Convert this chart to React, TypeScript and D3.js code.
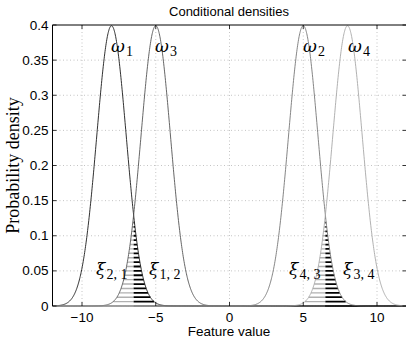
import React from "react";
import * as d3 from "d3";

const classNames = ["\u03c9", "\u03c9", "\u03c9", "\u03c9"];
const classIdx = ["1", "3", "2", "4"];
const classMeans = [-8, -5, 5, 8];
const classSigma = 1;
const curveColors = ["#1a1a1a", "#555555", "#777777", "#a8a8a8"];
const xTicks = [-10, -5, 0, 5, 10];
const yTicks = [0, 0.05, 0.1, 0.15, 0.2, 0.25, 0.3, 0.35, 0.4];
const yTickLabels = ["0", "0.05", "0.1", "0.15", "0.2", "0.25", "0.3", "0.35", "0.4"];
// pairs: [left class index, right class index]
const pairs = [[0, 1], [2, 3]];
const errLabels = [
  ["2,1", "1,2"],
  ["4,3", "3,4"],
];
const hatchStep = 0.00625;

const W = 406, H = 342;
const m = { left: 52.5, right: 406.5, top: 25, bottom: 306 };

function pdf(x: number, mu: number, s: number) {
  return Math.exp(-0.5 * ((x - mu) / s) ** 2) / (s * Math.sqrt(2 * Math.PI));
}

export default function App() {
  const x = d3.scaleLinear().domain([-12, 12]).range([m.left, m.right]);
  const y = d3.scaleLinear().domain([0, 0.4]).range([m.bottom, m.top]);
  const xs = d3.range(-12, 12.001, 0.02);
  const line = d3.line<number>();

  const sans = "'Liberation Sans', Arial, sans-serif";
  const serif = "'Liberation Serif', 'DejaVu Serif', serif";
  const math = "'DejaVu Serif', 'Liberation Serif', serif";

  const hatches: React.ReactNode[] = [];
  pairs.forEach(([a, b], pi) => {
    const ma = classMeans[a], mb = classMeans[b];
    const bnd = (ma + mb) / 2;
    const top = pdf(bnd, ma, classSigma);
    const levels = d3.range(0, top, hatchStep);
    levels.forEach((lv, i) => {
      const d = lv <= 0 ? 100 : Math.sqrt(-2 * Math.log(lv * classSigma * Math.sqrt(2 * Math.PI))) * classSigma;
      const xl = Math.max(mb - d, -12);
      const xr = Math.min(ma + d, 12);
      hatches.push(
        <line key={`g${pi}-${i}`} x1={x(xl)} x2={x(bnd)} y1={y(lv)} y2={y(lv)} stroke="#b0b0b0" strokeWidth={1.4} />
      );
      hatches.push(
        <line key={`k${pi}-${i}`} x1={x(bnd)} x2={x(xr)} y1={y(lv)} y2={y(lv)} stroke="#000" strokeWidth={1.8} />
      );
    });
  });

  const labelPos = [
    { x: 111, y: 52 },
    { x: 155, y: 52 },
    { x: 303, y: 52 },
    { x: 348, y: 52 },
  ];
  const errPos = [
    [{ x: 96, y: 275 }, { x: 149, y: 275 }],
    [{ x: 289, y: 275 }, { x: 343, y: 275 }],
  ];

  return (
    <svg width={W} height={H} style={{ position: "absolute", left: 0, top: 0, background: "#fff" }}>
      <defs>
        <clipPath id="plot">
          <rect x={m.left} y={m.top - 1} width={m.right - m.left} height={m.bottom - m.top + 2} />
        </clipPath>
      </defs>
      <rect x={0} y={0} width={W} height={H} fill="#fff" />
      {/* grid */}
      {xTicks.map((t) => (
        <line key={`gx${t}`} x1={x(t)} x2={x(t)} y1={m.top} y2={m.bottom} stroke="#b5b5b5" strokeWidth={0.8} strokeDasharray="1,2.5" />
      ))}
      {yTicks.slice(1, -1).map((t) => (
        <line key={`gy${t}`} x1={m.left} x2={m.right} y1={y(t)} y2={y(t)} stroke="#b5b5b5" strokeWidth={0.8} strokeDasharray="1,2.5" />
      ))}
      <g clipPath="url(#plot)">
        {hatches}
        {classMeans.map((mu, i) => (
          <path
            key={`c${i}`}
            d={line(xs.map((v) => [x(v), y(pdf(v, mu, classSigma))] as [number, number])) || ""}
            fill="none"
            stroke={curveColors[i]}
            strokeWidth={0.9}
          />
        ))}
      </g>
      {/* axes box */}
      <line x1={m.left} x2={m.right} y1={m.top} y2={m.top} stroke="#000" strokeWidth={1} />
      <line x1={m.left} x2={m.left} y1={m.top} y2={m.bottom} stroke="#000" strokeWidth={1} />
      <line x1={m.right} x2={m.right} y1={m.top} y2={m.bottom} stroke="#000" strokeWidth={1} />
      {/* ticks */}
      {xTicks.map((t) => (
        <g key={`xt${t}`}>
          <line x1={x(t)} x2={x(t)} y1={m.bottom} y2={m.bottom - 4} stroke="#000" strokeWidth={0.8} />
          <line x1={x(t)} x2={x(t)} y1={m.top} y2={m.top + 4} stroke="#000" strokeWidth={0.8} />
          <text x={x(t)} y={m.bottom + 16} textAnchor="middle" fontFamily={sans} fontSize={13.5} fill="#000">
            {t < 0 ? `\u2212${Math.abs(t)}` : `${t}`}
          </text>
        </g>
      ))}
      {yTicks.map((t, i) => (
        <g key={`yt${t}`}>
          <line x1={m.left} x2={m.left + 4} y1={y(t)} y2={y(t)} stroke="#000" strokeWidth={0.8} />
          <line x1={m.right} x2={m.right - 4} y1={y(t)} y2={y(t)} stroke="#000" strokeWidth={0.8} />
          <text x={m.left - 4} y={y(t) + 4.5} textAnchor="end" fontFamily={sans} fontSize={13.5} fill="#000">
            {yTickLabels[i]}
          </text>
        </g>
      ))}
      {/* class labels */}
      {classMeans.map((_, i) => (
        <text key={`l${i}`} x={labelPos[i].x} y={labelPos[i].y} fontFamily={math} fontStyle="italic" fontSize={17} fill="#000">
          {classNames[i]}
          <tspan fontFamily={serif} fontStyle="normal" fontSize={14} dx={1} dy={4}>{classIdx[i]}</tspan>
        </text>
      ))}
      {errLabels.map((pr, pi) =>
        pr.map((lab, j) => (
          <text key={`e${pi}-${j}`} x={errPos[pi][j].x} y={errPos[pi][j].y} fontFamily={math} fontStyle="italic" fontSize={17} fill="#000">
            {"\u03be"}
            <tspan fontFamily={serif} fontStyle="normal" fontSize={14} dx={1} dy={4}>{lab.replace(",", ", ")}</tspan>
          </text>
        ))
      )}
      {/* title and axis labels */}
      <text x={229} y={16} textAnchor="middle" fontFamily={sans} fontSize={13} fill="#000">
        Conditional densities
      </text>
      <text x={229} y={336} textAnchor="middle" fontFamily={sans} fontSize={13.5} fill="#000">
        Feature value
      </text>
      <text transform={`translate(19,${(m.top + m.bottom) / 2}) rotate(-90)`} textAnchor="middle" fontFamily={serif} fontSize={18} fill="#000">
        Probability density
      </text>
    </svg>
  );
}
